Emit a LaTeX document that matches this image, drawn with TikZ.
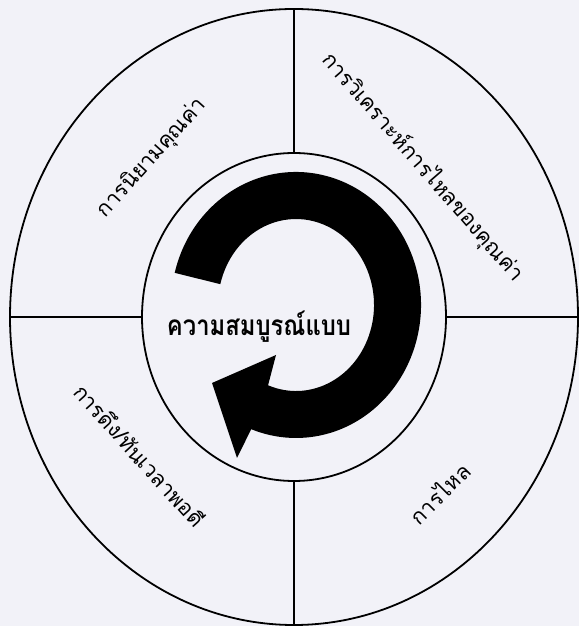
\documentclass[tikz,border=0pt]{standalone}
\usepackage{fontspec}
\usepackage{tikz}
\usetikzlibrary{shapes.geometric,calc}
\newfontfamily\thaifont[Script=Thai]{Loma}
\definecolor{paper}{RGB}{242,242,248}

\begin{document}
\begin{tikzpicture}[x=0.5pt,y=0.5pt,line width=0.9pt,
  oval/.style={draw,ellipse,inner sep=0pt,outer sep=0pt},
  lbl/.style={font=\thaifont\fontsize{10.8}{13}\selectfont},
  hub/.style={font=\thaifont\bfseries\fontsize{14}{17}\selectfont,xscale=0.85}]

% Paper
\fill[paper] (0,0) rectangle (579,626);
\useasboundingbox (0,0) rectangle (579,626);

% Outer and inner ellipse (sizes in pt = half the pixel size)
\node[oval,minimum width=284pt,minimum height=308pt] (outer) at (294,309) {};
\node[oval,minimum width=152pt,minimum height=164pt] (inner) at (294,309) {};

% Dividers between the two ellipses
\draw (outer.north) -- (inner.north);
\draw (inner.south) -- (outer.south);
\draw (outer.west) -- (inner.west);
\draw (inner.east) -- (outer.east);

% Circular arrow (clockwise, head at lower left)
\coordinate (ringc) at (296,321);
\fill (ringc) ++(166:125 and 133)
  arc [start angle=166, end angle=-111, x radius=125, y radius=133]
  -- (237,168) -- (212,243) -- (276,271)
  -- ($(ringc)+(-111:78 and 86)$)
  arc [start angle=-111, end angle=166, x radius=78, y radius=86]
  -- cycle;

% Labels in the four quarters
\node[lbl,rotate=48] (define) at (152,468) {การนิยามคุณค่า};
\node[lbl,rotate=-49] (stream) at (423,459) {การวิเคราะห์การไหลของคุณค่า};
\node[lbl,rotate=45] (flow) at (439,133) {การไหล};
\node[lbl,rotate=-48] (pull) at (140,171) {การดึง/ทันเวลาพอดี};

% Centre label
\node[hub] (perfect) at (259,299) {ความสมบูรณ์แบบ};

\end{tikzpicture}
\end{document}
